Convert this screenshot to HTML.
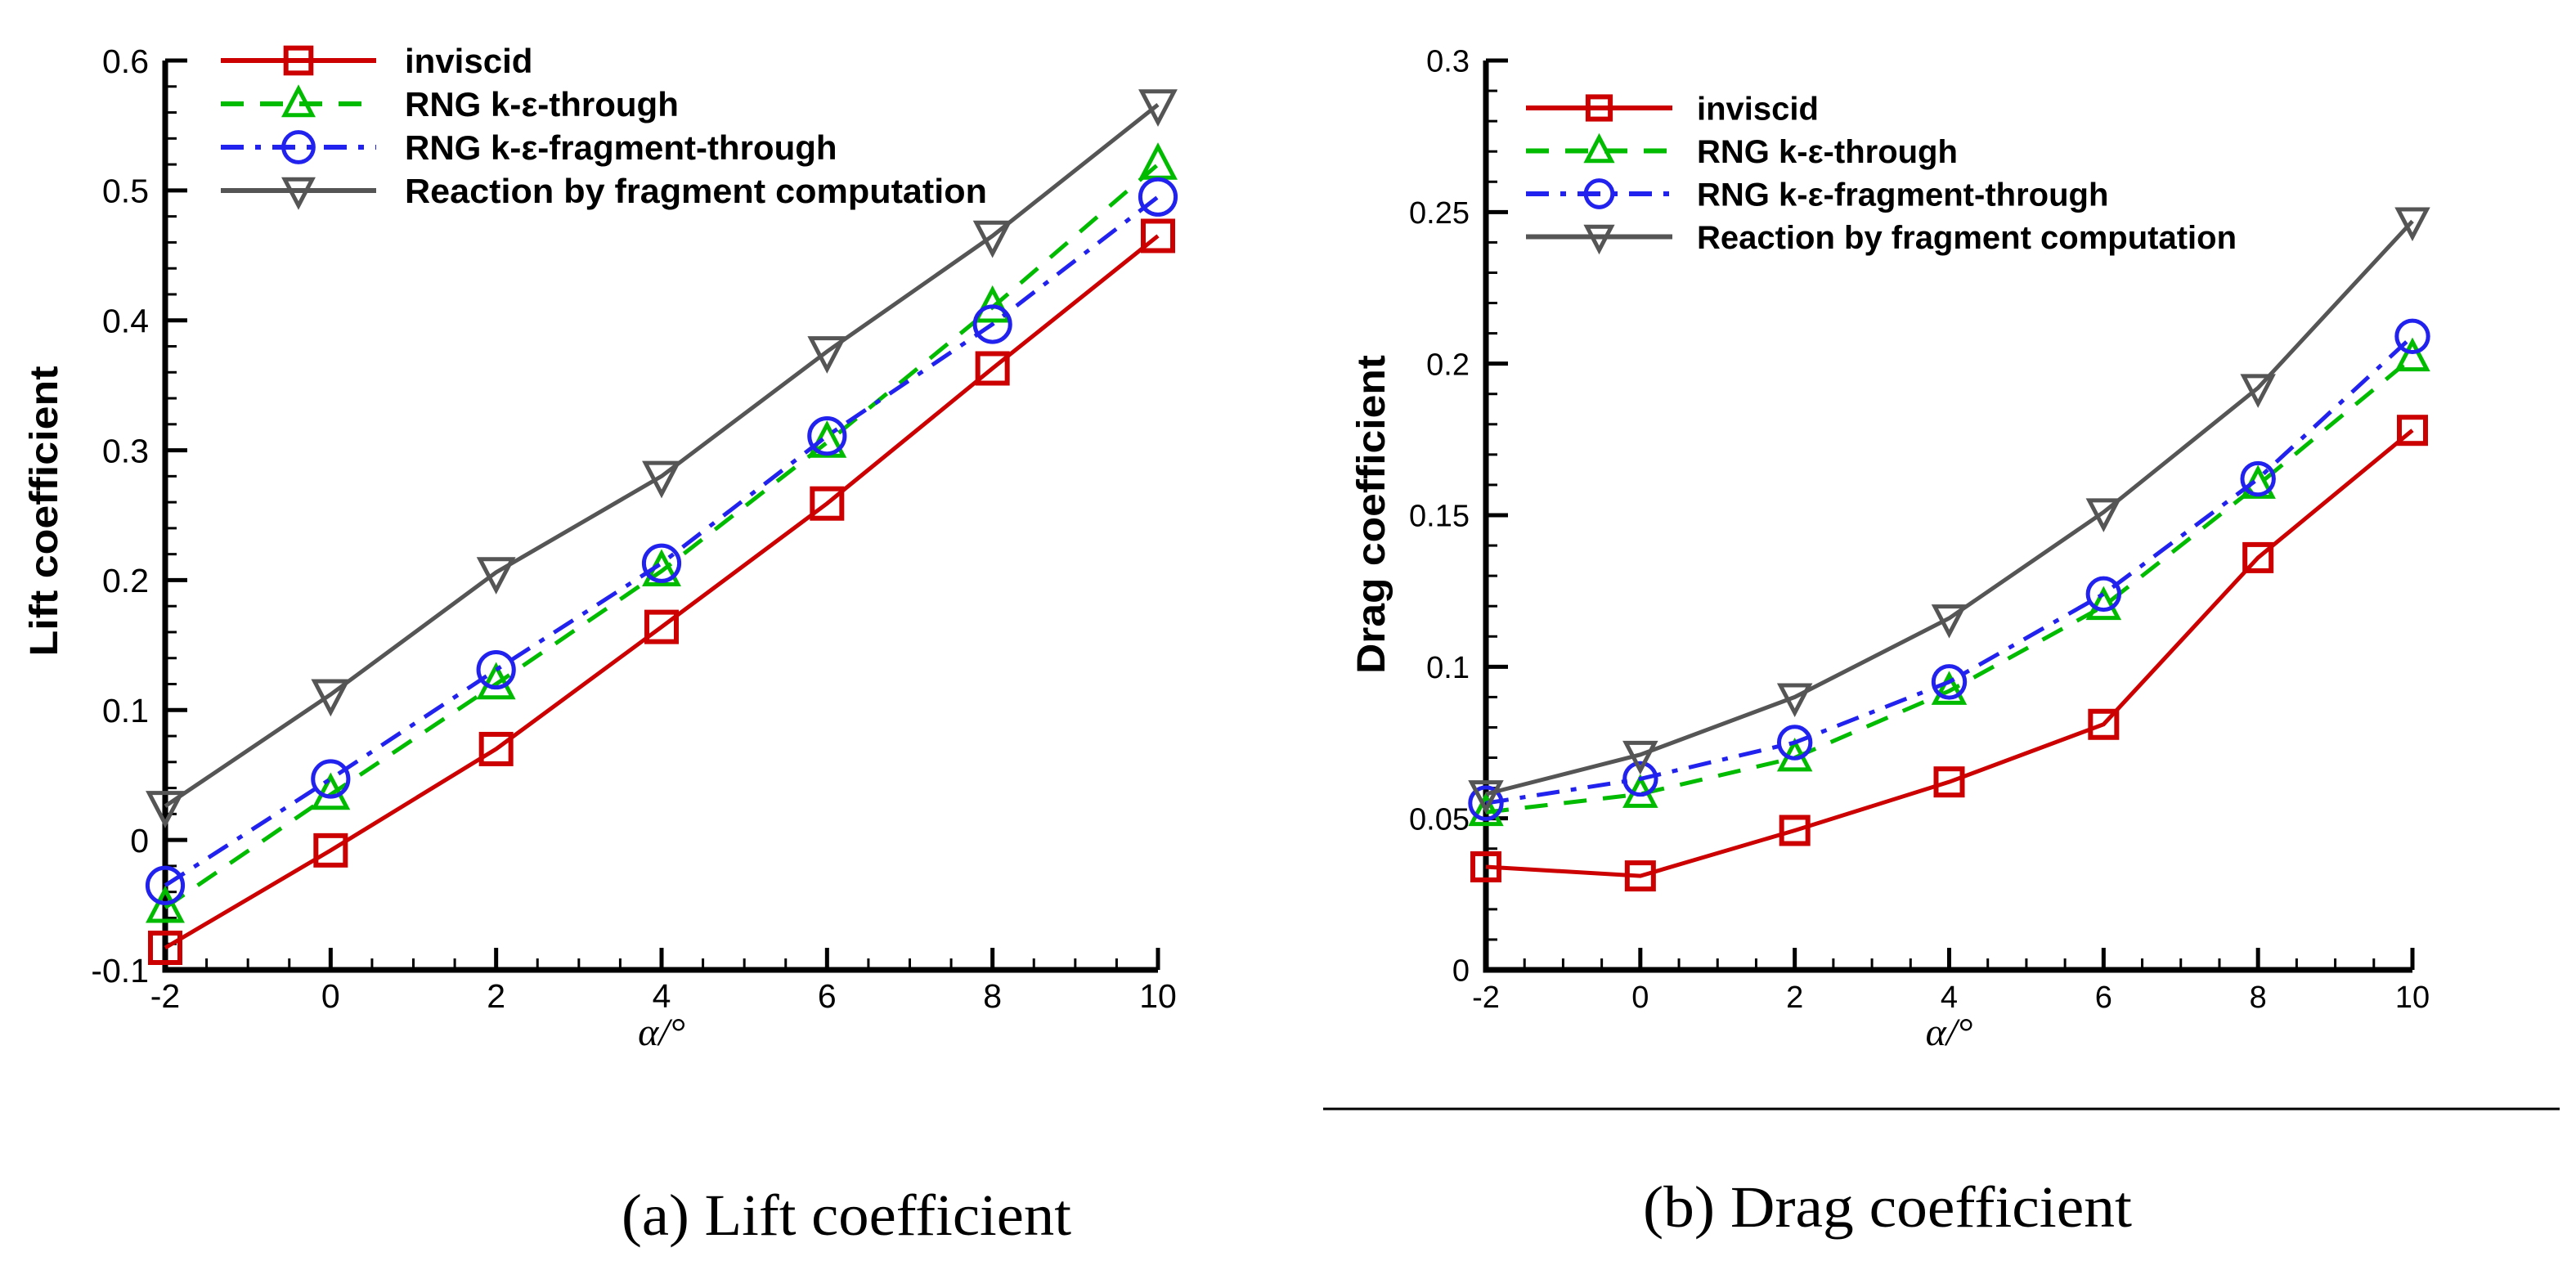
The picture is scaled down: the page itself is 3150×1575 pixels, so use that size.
<!DOCTYPE html>
<html><head><meta charset="utf-8"><style>
html,body{margin:0;padding:0;background:#fff}
svg{display:block}
</style></head><body>
<svg id="fig" width="3150" height="1575" viewBox="0 0 3150 1575" xmlns="http://www.w3.org/2000/svg">
<rect width="3150" height="1575" fill="#fff"/>
<g id="chartA"></g>
<g id="chartB"></g>
<line x1="1618" y1="1356" x2="3130" y2="1356" stroke="#000" stroke-width="3"/>
<text x="760" y="1510" font-family="'Liberation Serif',serif" font-size="72" textLength="550" lengthAdjust="spacingAndGlyphs">(a) Lift coefficient</text>
<text x="2009" y="1500" font-family="'Liberation Serif',serif" font-size="72" textLength="598" lengthAdjust="spacingAndGlyphs">(b) Drag coefficient</text>
</svg>
<script>
const xCategories = [-2, 0, 2, 4, 6, 8, 10];
const seriesNames = ["inviscid", "RNG k-\u03b5-through", "RNG k-\u03b5-fragment-through", "Reaction by fragment computation"];
const liftInviscid = [-0.083, -0.008, 0.070, 0.164, 0.259, 0.363, 0.465];
const liftRngThrough = [-0.052, 0.035, 0.120, 0.207, 0.306, 0.410, 0.520];
const liftRngFragment = [-0.035, 0.047, 0.131, 0.213, 0.311, 0.397, 0.495];
const liftReaction = [0.026, 0.112, 0.206, 0.280, 0.376, 0.465, 0.566];
const dragInviscid = [0.034, 0.031, 0.046, 0.062, 0.081, 0.136, 0.178];
const dragRngThrough = [0.052, 0.058, 0.070, 0.092, 0.120, 0.160, 0.202];
const dragRngFragment = [0.055, 0.063, 0.075, 0.095, 0.124, 0.162, 0.209];
const dragReaction = [0.058, 0.071, 0.090, 0.116, 0.151, 0.192, 0.247];
const xTickLabels = ["-2", "0", "2", "4", "6", "8", "10"];
const liftYTicks = ["-0.1", "0", "0.1", "0.2", "0.3", "0.4", "0.5", "0.6"];
const dragYTicks = ["0", "0.05", "0.1", "0.15", "0.2", "0.25", "0.3"];

const NS = "http://www.w3.org/2000/svg";
const styles = [
  {color:"#cc0000", dash:"", marker:"square"},
  {color:"#00bb00", dash:"28,20", marker:"tri"},
  {color:"#2222ee", dash:"28,14,7,14", marker:"circle"},
  {color:"#555555", dash:"", marker:"tridown"}
];
function mk(tag, attrs, parent){
  const e = document.createElementNS(NS, tag);
  for (const k in attrs) e.setAttribute(k, attrs[k]);
  parent.appendChild(e);
  return e;
}
function marker(g, type, cx, cy, color, s){
  let e;
  if (type==="square") e = mk("rect",{x:cx-s,y:cy-s,width:2*s,height:2*s,fill:"none",stroke:color,"stroke-width":6},g);
  else if (type==="circle") e = mk("circle",{cx:cx,cy:cy,r:s*1.2,fill:"none",stroke:color,"stroke-width":5},g);
  else if (type==="tri") e = mk("polygon",{points:`${cx},${cy-s*1.2} ${cx-s*1.1},${cy+s*0.9} ${cx+s*1.1},${cy+s*0.9}`,fill:"none",stroke:color,"stroke-width":5},g);
  else e = mk("polygon",{points:`${cx},${cy+s*1.2} ${cx-s*1.1},${cy-s*0.9} ${cx+s*1.1},${cy-s*0.9}`,fill:"none",stroke:color,"stroke-width":5},g);
  
  
  return e;
}
function drawChart(cfg){
  const g = document.getElementById(cfg.id);
  const xs = v => cfg.x0 + (v - xCategories[0]) / (xCategories[xCategories.length-1]-xCategories[0]) * (cfg.x1 - cfg.x0);
  const ys = v => cfg.yb + (v - cfg.ymin) / (cfg.ymax - cfg.ymin) * (cfg.yt - cfg.yb);
  const font = "'Liberation Sans',Arial,sans-serif";
  for (let v = xCategories[0]; v <= xCategories[xCategories.length-1] + 1e-9; v += 0.5){
    const major = Math.abs(v - Math.round(v/2)*2) < 1e-9;
    const t = mk("line",{x1:xs(v),y1:cfg.yb,x2:xs(v),y2:cfg.yb-(major?27:14),stroke:"#000","stroke-width":major?5:3},g);
    
    
  }
  const nMinor = Math.round((cfg.ymax-cfg.ymin)/cfg.minorStep);
  for (let i = 0; i <= nMinor; i++){
    const v = cfg.ymin + i*cfg.minorStep;
    const major = i % cfg.minorPer === 0;
    const t = mk("line",{x1:cfg.x0,y1:ys(v),x2:cfg.x0+(major?27:14),y2:ys(v),stroke:"#000","stroke-width":major?5:3},g);
    
    
  }
  const ax = mk("path",{d:`M${cfg.x0},${cfg.yt} L${cfg.x0},${cfg.yb} L${cfg.x1},${cfg.yb}`,fill:"none",stroke:"#000","stroke-width":7},g);
  
  
  xTickLabels.forEach((lab,i)=>{
    const t = mk("text",{x:xs(xCategories[i]),y:cfg.yb+46,"font-family":font,"font-size":cfg.fs,"text-anchor":"middle"},g);
    t.textContent = lab;
    
    
  });
  cfg.yTicks.forEach(lab=>{
    const t = mk("text",{x:cfg.x0-20,y:ys(parseFloat(lab))+cfg.fs*0.36,"font-family":font,"font-size":cfg.fs,"text-anchor":"end"},g);
    t.textContent = lab;
    
    
  });
  const xt = mk("text",{x:(cfg.x0+cfg.x1)/2,y:cfg.yb+92,"font-family":"'Liberation Serif',serif","font-size":48,"font-style":"italic","text-anchor":"middle"},g);
  xt.textContent = "\u03b1/\u00b0";
  
  
  const yt = mk("text",{x:0,y:0,"font-family":font,"font-size":48,"font-weight":"bold","text-anchor":"middle",textLength:cfg.ytLen,lengthAdjust:"spacingAndGlyphs",transform:`translate(${cfg.ytX},${cfg.ytY}) rotate(-90)`},g);
  yt.textContent = cfg.yTitle;
  
  
  cfg.series.forEach((vals,si)=>{
    const st = styles[si];
    const sg = mk("g",{},g);
    
    
    const pts = vals.map((v,i)=>`${xs(xCategories[i])},${ys(v)}`).join(" ");
    const pl = mk("polyline",{points:pts,fill:"none",stroke:st.color,"stroke-width":5,"stroke-dasharray":st.dash},sg);
    
    
    vals.forEach((v,i)=>marker(sg, st.marker, xs(xCategories[i]), ys(v), st.color, cfg.ms));
  });
  seriesNames.forEach((name,i)=>{
    const st = styles[i];
    const y = cfg.legY + i*cfg.legDy;
    const lg = mk("g",{},g);
    
    
    mk("line",{x1:cfg.legX0,y1:y,x2:cfg.legX1,y2:y,stroke:st.color,"stroke-width":6,"stroke-dasharray":st.dash},lg);
    marker(lg, st.marker, (cfg.legX0+cfg.legX1)/2, y, st.color, cfg.ms*0.85);
    const t = mk("text",{x:cfg.legTx,y:y+cfg.legFs*0.36,"font-family":font,"font-size":cfg.legFs,"font-weight":"bold"},lg);
    if (i===3) { t.setAttribute("textLength", cfg.legLen); t.setAttribute("lengthAdjust","spacingAndGlyphs"); }
    t.textContent = name;
  });
}
drawChart({id:"chartA",x0:202,x1:1416,yb:1186,yt:74,ymin:-0.1,ymax:0.6,minorStep:0.02,minorPer:5,
  yTicks:liftYTicks,fs:41,series:[liftInviscid,liftRngThrough,liftRngFragment,liftReaction],
  yTitle:"Lift coefficient",ytX:70,ytY:625,ytLen:355,ms:18,
  legX0:270,legX1:460,legTx:495,legY:74,legDy:53,legFs:42,legLen:712});
drawChart({id:"chartB",x0:1817,x1:2950,yb:1186,yt:74,ymin:0,ymax:0.3,minorStep:0.01,minorPer:5,
  yTicks:dragYTicks,fs:38,series:[dragInviscid,dragRngThrough,dragRngFragment,dragReaction],
  yTitle:"Drag coefficient",ytX:1693,ytY:629,ytLen:390,ms:16,
  legX0:1866,legX1:2045,legTx:2075,legY:132,legDy:52.5,legFs:40,legLen:660});
</script>
</body></html>
